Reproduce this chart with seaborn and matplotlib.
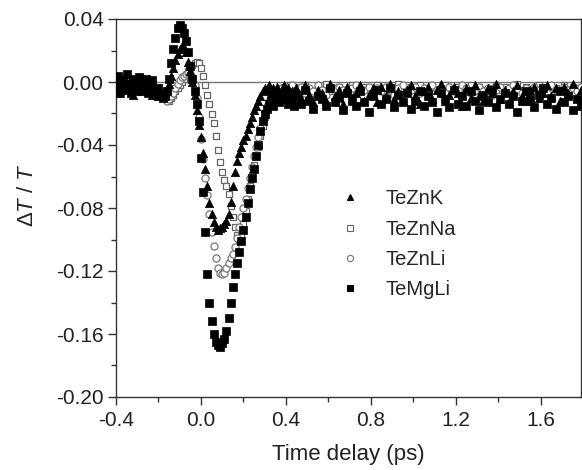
import numpy as np
import pandas as pd
import matplotlib
matplotlib.use("Agg")
import matplotlib.pyplot as plt
from matplotlib.lines import Line2D
import seaborn as sns

# ---------------- data ----------------
t_pre = [-0.40, -0.39, -0.38, -0.37, -0.36, -0.35, -0.34, -0.33, -0.32, -0.31,
         -0.30, -0.29, -0.28, -0.27, -0.26, -0.25, -0.24, -0.23, -0.22, -0.21, -0.20]
t_core = [-0.19, -0.18, -0.17, -0.16, -0.15, -0.14, -0.13, -0.12, -0.11, -0.10,
          -0.09, -0.08, -0.07, -0.06, -0.05, -0.04, -0.03, -0.02, -0.01, 0.00,
          0.01, 0.02, 0.03, 0.04, 0.05, 0.06, 0.07, 0.08, 0.09, 0.10,
          0.11, 0.12, 0.13, 0.14, 0.15, 0.16, 0.17, 0.18, 0.19, 0.20,
          0.21, 0.22, 0.23, 0.24, 0.25, 0.26, 0.27, 0.28, 0.29, 0.30,
          0.31, 0.32, 0.33, 0.34, 0.35, 0.36, 0.37, 0.38, 0.39, 0.40,
          0.41, 0.42, 0.43, 0.44]
t_tail = [0.45, 0.47, 0.49, 0.51, 0.53, 0.55, 0.57, 0.59, 0.61, 0.63,
          0.65, 0.67, 0.69, 0.71, 0.73, 0.75, 0.77, 0.79, 0.81, 0.83,
          0.85, 0.87, 0.89, 0.91, 0.93, 0.95, 0.97, 0.99, 1.01, 1.03,
          1.05, 1.07, 1.09, 1.11, 1.13, 1.15, 1.17, 1.19, 1.21, 1.23,
          1.25, 1.27, 1.29, 1.31, 1.33, 1.35, 1.37, 1.39, 1.41, 1.43,
          1.45, 1.47, 1.49, 1.51, 1.53, 1.55, 1.57, 1.59, 1.61, 1.63,
          1.65, 1.67, 1.69, 1.71, 1.73, 1.75, 1.77, 1.79]

# TeMgLi (filled squares)
temgli_pre = [-0.003, 0.004, -0.006, 0.001, -0.004, 0.005, -0.001, -0.007, 0.002, -0.003,
              -0.006, 0.003, -0.002, -0.005, 0.002, -0.007, -0.003, 0.001, -0.006, -0.008, -0.004]
temgli_core = [-0.007, -0.010, -0.009, -0.006, 0.002, 0.012, 0.021, 0.028, 0.034, 0.036,
               0.034, 0.031, 0.026, 0.019, 0.010, 0.002, -0.006, -0.014, -0.025, -0.048,
               -0.070, -0.095, -0.122, -0.140, -0.152, -0.160, -0.165, -0.167, -0.168, -0.166,
               -0.163, -0.158, -0.150, -0.140, -0.130, -0.122, -0.115, -0.108, -0.101, -0.094,
               -0.086, -0.077, -0.068, -0.061, -0.055, -0.047, -0.040, -0.031, -0.025, -0.020,
               -0.017, -0.014, -0.012, -0.015, -0.010, -0.008, -0.013, -0.007, -0.011, -0.009,
               -0.014, -0.007, -0.010, -0.015]
temgli_tail = [-0.008, -0.014, -0.005, -0.012, -0.017, -0.009, -0.011, -0.015, -0.004, -0.013,
               -0.010, -0.018, -0.007, -0.012, -0.015, -0.006, -0.013, -0.019, -0.009, -0.005,
               -0.014, -0.011, -0.004, -0.016, -0.008, -0.013, -0.007, -0.017, -0.012, -0.006,
               -0.015, -0.009, -0.013, -0.019, -0.007, -0.011, -0.016, -0.005, -0.014, -0.009,
               -0.015, -0.006, -0.012, -0.018, -0.008, -0.013, -0.005, -0.016, -0.011, -0.007,
               -0.014, -0.009, -0.019, -0.012, -0.006, -0.011, -0.016, -0.008, -0.004, -0.014,
               -0.010, -0.017, -0.006, -0.013, -0.009, -0.018, -0.011, -0.015]

# TeZnK (filled triangles)
teznk_pre = [-0.004, 0.002, -0.007, -0.001, 0.003, -0.005, -0.002, 0.002, -0.008, -0.003,
             0.001, -0.003, -0.006, 0.002, -0.004, 0.000, -0.006, -0.008, -0.002, -0.007, -0.009]
teznk_core = [-0.006, -0.008, -0.007, -0.005, -0.001, 0.004, 0.009, 0.014, 0.018, 0.021,
              0.023, 0.022, 0.019, 0.013, 0.007, 0.000, -0.008, -0.018, -0.027, -0.035,
              -0.045, -0.055, -0.066, -0.077, -0.084, -0.089, -0.092, -0.094, -0.093, -0.092,
              -0.090, -0.088, -0.084, -0.076, -0.066, -0.057, -0.050, -0.045, -0.041, -0.037,
              -0.034, -0.030, -0.026, -0.022, -0.018, -0.015, -0.012, -0.009, -0.006, -0.004,
              -0.005, -0.002, -0.007, -0.004, -0.009, -0.003, -0.010, -0.006, -0.002, -0.008,
              -0.004, -0.011, -0.006, -0.009]
teznk_tail = [-0.004, -0.010, -0.002, -0.008, -0.013, -0.005, -0.007, -0.012, -0.001, -0.009,
              -0.005, -0.014, -0.003, -0.010, -0.007, -0.002, -0.012, -0.008, -0.004, -0.013,
              -0.003, -0.009, -0.001, -0.011, -0.006, -0.012, -0.005, -0.002, -0.009, -0.014,
              -0.006, -0.003, -0.011, -0.005, -0.001, -0.012, -0.008, -0.003, -0.007, -0.015,
              -0.004, -0.010, -0.002, -0.009, -0.012, -0.004, -0.007, -0.001, -0.011, -0.005,
              -0.013, -0.006, -0.002, -0.009, -0.012, -0.005, -0.003, -0.010, -0.007, -0.002,
              -0.009, -0.004, -0.012, -0.003, -0.007, -0.001, -0.010, -0.005]

# TeZnNa (open squares)
teznna_pre = [-0.001, -0.004, 0.001, -0.003, -0.002, 0.000, -0.005, -0.002, -0.001, -0.004,
              -0.003, 0.000, -0.002, -0.005, -0.003, -0.004, -0.006, -0.005, -0.007, -0.006, -0.008]
teznna_core = [-0.007, -0.009, -0.010, -0.011, -0.012, -0.010, -0.008, -0.006, -0.004, -0.002,
               0.000, 0.002, 0.004, 0.007, 0.009, 0.011, 0.012, 0.013, 0.012, 0.009,
               0.004, -0.002, -0.008, -0.014, -0.020, -0.026, -0.034, -0.043, -0.051, -0.057,
               -0.062, -0.066, -0.071, -0.079, -0.086, -0.092, -0.097, -0.100, -0.097, -0.090,
               -0.082, -0.074, -0.066, -0.059, -0.053, -0.047, -0.041, -0.034, -0.028, -0.022,
               -0.017, -0.013, -0.010, -0.008, -0.006, -0.005, -0.007, -0.004, -0.003, -0.006,
               -0.004, -0.002, -0.005, -0.003]
teznna_tail = [-0.004, -0.006, -0.002, -0.005, -0.007, -0.003, -0.005, -0.001, -0.006, -0.004,
               -0.003, -0.007, -0.005, -0.002, -0.006, -0.004, -0.003, -0.005, -0.008, -0.002,
               -0.004, -0.006, -0.003, -0.005, -0.001, -0.004, -0.007, -0.003, -0.005, -0.002,
               -0.006, -0.004, -0.003, -0.005, -0.007, -0.002, -0.004, -0.006, -0.003, -0.005,
               -0.004, -0.002, -0.006, -0.003, -0.005, -0.007, -0.004, -0.002, -0.005, -0.003,
               -0.006, -0.004, -0.001, -0.005, -0.003, -0.006, -0.004, -0.002, -0.005, -0.007,
               -0.003, -0.004, -0.006, -0.002, -0.005, -0.003, -0.004, -0.006]

# TeZnLi (open circles)
teznli_pre = [-0.002, 0.001, -0.003, -0.001, -0.004, 0.000, -0.002, -0.003, 0.001, -0.005,
              -0.002, -0.004, -0.001, -0.003, -0.006, -0.004, -0.005, -0.007, -0.006, -0.008, -0.009]
teznli_core = [-0.007, -0.009, -0.011, -0.012, -0.011, -0.009, -0.007, -0.004, -0.001, 0.001,
               0.003, 0.004, 0.005, 0.006, 0.005, 0.003, -0.002, -0.010, -0.022, -0.036,
               -0.049, -0.061, -0.072, -0.084, -0.095, -0.104, -0.112, -0.118, -0.121, -0.122,
               -0.121, -0.118, -0.115, -0.112, -0.109, -0.105, -0.099, -0.092, -0.086, -0.080,
               -0.074, -0.067, -0.061, -0.054, -0.047, -0.041, -0.035, -0.029, -0.024, -0.019,
               -0.015, -0.012, -0.010, -0.008, -0.006, -0.007, -0.005, -0.004, -0.006, -0.003,
               -0.005, -0.004, -0.002, -0.006]
teznli_tail = [-0.005, -0.003, -0.007, -0.004, -0.006, -0.002, -0.005, -0.008, -0.004, -0.006,
               -0.003, -0.005, -0.007, -0.004, -0.002, -0.006, -0.005, -0.003, -0.007, -0.004,
               -0.006, -0.003, -0.005, -0.008, -0.004, -0.002, -0.006, -0.005, -0.003, -0.007,
               -0.004, -0.006, -0.002, -0.005, -0.004, -0.007, -0.003, -0.006, -0.005, -0.002,
               -0.004, -0.007, -0.005, -0.003, -0.006, -0.004, -0.008, -0.005, -0.003, -0.006,
               -0.004, -0.002, -0.005, -0.007, -0.004, -0.006, -0.003, -0.005, -0.004, -0.007,
               -0.002, -0.005, -0.006, -0.003, -0.005, -0.004, -0.006, -0.003]

series_names = ["TeZnK", "TeZnNa", "TeZnLi", "TeMgLi"]
x_ticks = [-0.4, 0.0, 0.4, 0.8, 1.2, 1.6]
y_ticks = [0.04, 0.00, -0.04, -0.08, -0.12, -0.16, -0.20]

values = {
    "TeZnK": teznk_pre + teznk_core + teznk_tail,
    "TeZnNa": teznna_pre + teznna_core + teznna_tail,
    "TeZnLi": teznli_pre + teznli_core + teznli_tail,
    "TeMgLi": temgli_pre + temgli_core + temgli_tail,
}
times = t_pre + t_core + t_tail
frames = [pd.DataFrame({"t": times, "v": values[n], "sample": n}) for n in series_names]
df = pd.concat(frames, ignore_index=True)

# ---------------- figure ----------------
sns.set_theme(style="ticks")
plt.rcParams["font.family"] = ["Liberation Sans", "DejaVu Sans"]
plt.rcParams["mathtext.fontset"] = "custom"
plt.rcParams["mathtext.rm"] = "Liberation Sans"
plt.rcParams["mathtext.it"] = "Liberation Sans:italic"

fig = plt.figure(figsize=(5.82, 4.70), dpi=100)
ax = fig.add_axes([116 / 582, 1 - 397 / 470, 465 / 582, 378 / 470])

ax.axhline(0.0, color="#777777", lw=1.0, zorder=1)

styles = {
    "TeZnNa": dict(marker="s", s=24, facecolor="white", edgecolor="#666666", linewidth=0.9),
    "TeZnLi": dict(marker="o", s=26, facecolor="white", edgecolor="#777777", linewidth=0.9),
    "TeZnK": dict(marker="^", s=36, facecolor="black", edgecolor="black", linewidth=0.5),
    "TeMgLi": dict(marker="s", s=27, facecolor="black", edgecolor="black", linewidth=0.5),
}
draw_order = ["TeZnNa", "TeZnLi", "TeZnK", "TeMgLi"]
for i, name in enumerate(draw_order):
    sub = df[df["sample"] == name]
    sns.scatterplot(data=sub, x="t", y="v", ax=ax, legend=False, zorder=2 + i, **styles[name])

ax.set_xlim(-0.4, 1.79)
ax.set_ylim(-0.20, 0.04)
ax.set_xticks(x_ticks)
ax.set_xticklabels([f"{v:.1f}" for v in x_ticks])
ax.set_yticks(y_ticks)
ax.set_yticklabels([f"{v:.2f}" for v in y_ticks])
ax.xaxis.set_minor_locator(matplotlib.ticker.MultipleLocator(0.2))
ax.yaxis.set_minor_locator(matplotlib.ticker.MultipleLocator(0.02))
ax.tick_params(which="major", direction="out", length=6, width=1, color="#333333",
               labelsize=15, labelcolor="#222222", top=False, right=False)
ax.tick_params(axis="y", which="major", pad=3)
ax.tick_params(axis="x", which="major", pad=4)
ax.tick_params(which="minor", direction="out", length=3.5, width=1, color="#333333",
               top=False, right=False)
for sp in ax.spines.values():
    sp.set_visible(True)
    sp.set_color("#333333")
    sp.set_linewidth(1.0)

ax.set_xlabel("Time delay (ps)", fontsize=16, color="#222222")
ax.set_ylabel(r"$\Delta\mathit{T}$ / $\mathit{T}$", fontsize=16, color="#222222")
ax.xaxis.set_label_coords(0.5, -0.153)
ax.xaxis.label.set_verticalalignment("center")
ax.yaxis.set_label_coords(-0.191, 0.535)
ax.yaxis.label.set_verticalalignment("center")

handles = []
for name in series_names:
    st = styles[name]
    handles.append(Line2D([], [], linestyle="none", marker=st["marker"],
                          markerfacecolor=st["facecolor"], markeredgecolor=st["edgecolor"],
                          markeredgewidth=0.8, markersize=4.5))
ax.legend(handles, series_names, loc="upper left", bbox_to_anchor=(0.482, 0.549),
          frameon=False, fontsize=14.5, labelspacing=0.55, handlelength=1.0,
          handletextpad=1.25, borderaxespad=0, borderpad=0)

fig.savefig("out.png", dpi=100)
